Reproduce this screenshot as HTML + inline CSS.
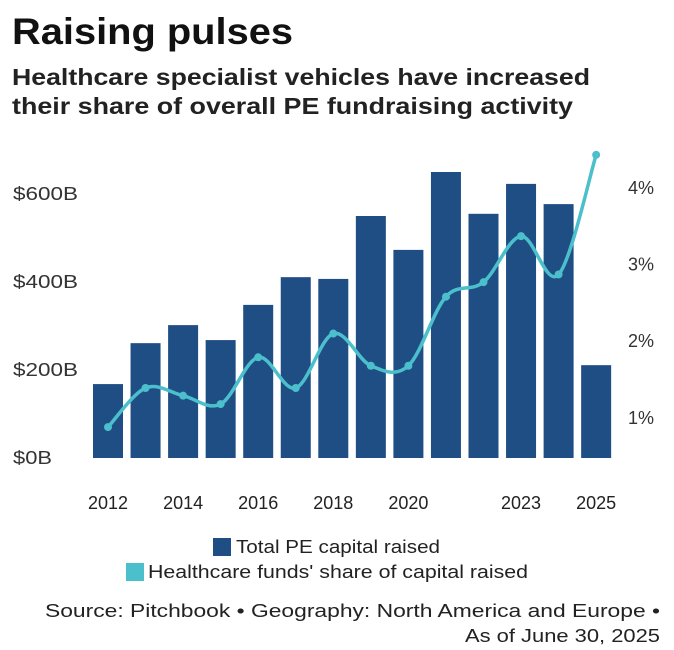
<!DOCTYPE html>
<html><head><meta charset="utf-8"><style>
body{margin:0;background:#fff;font-family:"Liberation Sans",sans-serif;}
#wrap{position:relative;width:674px;height:650px;overflow:hidden;}
</style></head><body>
<div id="wrap">
<svg id="svg" width="674" height="650">
<text x="12" y="44" font-size="37" font-weight="bold" fill="#111" textLength="281" lengthAdjust="spacingAndGlyphs">Raising pulses</text>
<text x="12" y="85" font-size="23" font-weight="bold" fill="#222" textLength="578" lengthAdjust="spacingAndGlyphs">Healthcare specialist vehicles have increased</text>
<text x="12" y="114" font-size="23" font-weight="bold" fill="#222" textLength="561" lengthAdjust="spacingAndGlyphs">their share of overall PE fundraising activity</text>
<g id="bars"></g><g id="line"></g><g id="axes"></g>
<rect x="213" y="538" width="18" height="18" fill="#1f4e85"/>
<text x="236" y="553" font-size="18" fill="#222" textLength="204" lengthAdjust="spacingAndGlyphs">Total PE capital raised</text>
<text x="148" y="578" font-size="18" fill="#222" textLength="380" lengthAdjust="spacingAndGlyphs">Healthcare funds' share of capital raised</text>
<rect x="126" y="563" width="18" height="18" fill="#4bbfcc"/>
<text x="45" y="617" font-size="18" fill="#222" textLength="615" lengthAdjust="spacingAndGlyphs">Source: Pitchbook • Geography: North America and Europe •</text>
<text x="465" y="642" font-size="18" fill="#222" textLength="195" lengthAdjust="spacingAndGlyphs">As of June 30, 2025</text>
</svg></div>
<script>
const years=[2012,2013,2014,2015,2016,2017,2018,2019,2020,2021,2022,2023,2024,2025];
const capital=[168,261,302,268,348,411,407,550,473,650,555,623,577,211];
const share=[0.88,1.39,1.29,1.18,1.79,1.39,2.10,1.68,1.68,2.58,2.77,3.37,2.87,4.43];
const leftTicks=[0,200,400,600];
const leftLabels=["$0B","$200B","$400B","$600B"];
const rightTicks=[1,2,3,4];
const rightLabels=["1%","2%","3%","4%"];
const xLabelYears=[2012,2014,2016,2018,2020,2023,2025];
const NS="http://www.w3.org/2000/svg";
const xC=y=>108+(y-2012)*37.55;
const yL=v=>458-v*0.44;
const yR=v=>494.6-v*76.7;
function mk(t,a,p){const e=document.createElementNS(NS,t);for(const k in a)e.setAttribute(k,a[k]);p.appendChild(e);return e;}
const bars=document.getElementById('bars'),line=document.getElementById('line'),axes=document.getElementById('axes');
years.forEach((yr,i)=>{const r=mk('rect',{x:xC(yr)-15,y:yL(capital[i]),width:30,height:458-yL(capital[i]),fill:'#1f4e85'},bars);

});
const pts=years.map((yr,i)=>[xC(yr),yR(share[i])]);
let d='M'+pts[0][0]+','+pts[0][1];
for(let i=0;i<pts.length-1;i++){const p0=pts[Math.max(0,i-1)],p1=pts[i],p2=pts[i+1],p3=pts[Math.min(pts.length-1,i+2)];
d+=' C'+(p1[0]+(p2[0]-p0[0])/6)+','+(p1[1]+(p2[1]-p0[1])/6)+' '+(p2[0]-(p3[0]-p1[0])/6)+','+(p2[1]-(p3[1]-p1[1])/6)+' '+p2[0]+','+p2[1];}
const pl=mk('path',{d:d,fill:'none',stroke:'#4bbfcc','stroke-width':3.5},line);


pts.forEach((p,i)=>{const c=mk('circle',{cx:p[0],cy:p[1],r:4,fill:'#4bbfcc'},line);

});
leftTicks.forEach((v,i)=>{const t=mk('text',{x:13,y:yL(v)+6,'font-size':18,fill:'#333',textLength:leftLabels[i].length*13,lengthAdjust:'spacingAndGlyphs'},axes);t.textContent=leftLabels[i];

});
rightTicks.forEach((v,i)=>{const t=mk('text',{x:628,y:yR(v)+6,'font-size':18,fill:'#333'},axes);t.textContent=rightLabels[i];

});
xLabelYears.forEach(yr=>{const t=mk('text',{x:xC(yr),y:509,'font-size':18,fill:'#222','text-anchor':'middle'},axes);t.textContent=yr;

});
</script>
</body></html>
